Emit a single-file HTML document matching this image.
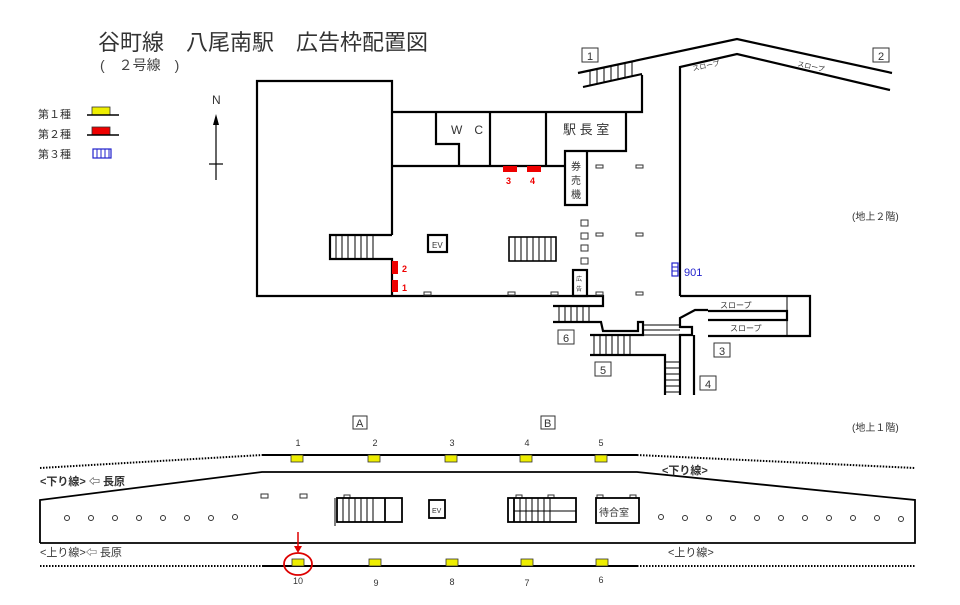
<!DOCTYPE html>
<html><head><meta charset="utf-8"><style>
body{margin:0;background:#fff;}
svg{display:block;font-family:"Liberation Sans","Noto Sans CJK JP",sans-serif;}
</style></head><body>
<svg width="960" height="605" viewBox="0 0 960 605" xmlns="http://www.w3.org/2000/svg">
<text x="98" y="50" font-size="22" fill="#333">谷町線　八尾南駅　広告枠配置図</text>
<text x="100" y="70" font-size="14" fill="#444">(　２号線　)</text>
<!-- legend -->
<g font-size="11" fill="#333">
<text x="38" y="118">第１種</text><text x="38" y="138">第２種</text><text x="38" y="158">第３種</text></g>
<rect x="92" y="107" width="18" height="8" fill="#ee0" stroke="#333" stroke-width="0.8"/><line x1="87" y1="115" x2="119" y2="115" stroke="#000" stroke-width="1.6"/>
<rect x="92" y="127" width="18" height="8" fill="#e00" stroke="#333" stroke-width="0.8"/><line x1="87" y1="135" x2="119" y2="135" stroke="#000" stroke-width="1.6"/>
<rect x="93" y="149" width="18" height="9" fill="#fff" stroke="#22c" stroke-width="1.2"/>
<g stroke="#22c"><line x1="97" y1="149" x2="97" y2="158"/><line x1="101" y1="149" x2="101" y2="158"/><line x1="105" y1="149" x2="105" y2="158"/><line x1="109" y1="149" x2="109" y2="158"/></g>
<!-- north -->
<text x="212" y="104" font-size="12" fill="#333">N</text>
<line x1="216" y1="120" x2="216" y2="180" stroke="#000" stroke-width="1.2"/>
<polygon points="216,114 213,125 219,125" fill="#000"/>
<line x1="209" y1="164" x2="223" y2="164" stroke="#000" stroke-width="1.2"/>

<g fill="none" stroke="#000" stroke-width="2.2">
<polyline points="392,235 392,81 257,81 257,296 603,296 603,306 553,306"/>
<polyline points="392,296 392,259 330,259 330,235 392,235"/>
<polyline points="392,112 642,112 642,75"/>
<line x1="392" y1="166" x2="565" y2="166"/>
<polyline points="436,112 436,144 459,144 459,166"/>
<line x1="490" y1="112" x2="490" y2="166"/>
<line x1="546" y1="112" x2="546" y2="166"/>
<polyline points="626,112 626,151 565,151 565,205 587,205 587,151"/>
<rect x="428" y="235" width="19" height="17"/>
<rect x="573" y="270" width="14" height="26"/>
<polyline points="578,73 737,39 892,73"/>
<polyline points="680,296 680,67 737,54 890,90"/>
<polyline points="680,296 810,296 810,336 708,336"/>
<polyline points="708,311 787,311 787,320 708,320"/>
<polyline points="553,322 601,322 603,331 638,331 638,322 643,322 643,335 590,335"/>
<polyline points="590,355 665,355 665,395"/>
<polyline points="680,395 680,335 692,335 692,327 680,327 680,318 695,310 708,310"/>
<line x1="694" y1="335" x2="694" y2="395"/>
</g>
<g stroke="#000" stroke-width="1">
<line x1="336" y1="235" x2="336" y2="259"/><line x1="342" y1="235" x2="342" y2="259"/><line x1="348" y1="235" x2="348" y2="259"/><line x1="355" y1="235" x2="355" y2="259"/><line x1="361" y1="235" x2="361" y2="259"/><line x1="367" y1="235" x2="367" y2="259"/><line x1="373" y1="235" x2="373" y2="259"/>
<rect x="509" y="237" width="47" height="24" fill="none" stroke-width="1.6"/>
<line x1="515" y1="237" x2="515" y2="261"/><line x1="521" y1="237" x2="521" y2="261"/><line x1="527" y1="237" x2="527" y2="261"/><line x1="533" y1="237" x2="533" y2="261"/><line x1="539" y1="237" x2="539" y2="261"/><line x1="545" y1="237" x2="545" y2="261"/><line x1="551" y1="237" x2="551" y2="261"/>
<line x1="559" y1="306" x2="559" y2="322"/><line x1="565" y1="306" x2="565" y2="322"/><line x1="571" y1="306" x2="571" y2="322"/><line x1="577" y1="306" x2="577" y2="322"/><line x1="583" y1="306" x2="583" y2="322"/><line x1="589" y1="306" x2="589" y2="322"/>
<line x1="594" y1="335" x2="594" y2="355"/><line x1="600" y1="335" x2="600" y2="355"/><line x1="606" y1="335" x2="606" y2="355"/><line x1="612" y1="335" x2="612" y2="355"/><line x1="618" y1="335" x2="618" y2="355"/><line x1="624" y1="335" x2="624" y2="355"/><line x1="630" y1="335" x2="630" y2="355"/>
<line x1="643" y1="325" x2="680" y2="325"/><line x1="643" y1="330" x2="680" y2="330"/><line x1="643" y1="335" x2="680" y2="335"/>
<line x1="665" y1="362" x2="680" y2="362"/><line x1="665" y1="368" x2="680" y2="368"/><line x1="665" y1="374" x2="680" y2="374"/><line x1="665" y1="380" x2="680" y2="380"/><line x1="665" y1="386" x2="680" y2="386"/><line x1="665" y1="392" x2="680" y2="392"/>
<line x1="787" y1="296" x2="787" y2="336"/>
<line x1="590" y1="70" x2="590" y2="85"/><line x1="597" y1="69" x2="597" y2="84"/><line x1="604" y1="67" x2="604" y2="82"/><line x1="611" y1="66" x2="611" y2="80"/><line x1="618" y1="64" x2="618" y2="79"/><line x1="625" y1="63" x2="625" y2="77"/><line x1="632" y1="61" x2="632" y2="76"/>
<line x1="583" y1="87" x2="642" y2="74" stroke-width="2"/>
</g>
<g fill="none" stroke="#333" stroke-width="1">
<rect x="596" y="165" width="7" height="3"/><rect x="636" y="165" width="7" height="3"/>
<rect x="596" y="233" width="7" height="3"/><rect x="636" y="233" width="7" height="3"/>
<rect x="636" y="292" width="7" height="3"/><rect x="596" y="292" width="7" height="3"/>
<rect x="581" y="220" width="7" height="6"/><rect x="581" y="233" width="7" height="6"/><rect x="581" y="245" width="7" height="6"/><rect x="581" y="258" width="7" height="6"/>
<rect x="424" y="292" width="7" height="3"/><rect x="508" y="292" width="7" height="3"/><rect x="551" y="292" width="7" height="3"/>
</g>
<g fill="#e00"><rect x="392" y="261" width="6" height="13"/><rect x="392" y="280" width="6" height="12"/><rect x="503" y="166" width="14" height="6"/><rect x="527" y="166" width="14" height="6"/></g>
<g font-size="9" fill="#e00" font-weight="bold"><text x="402" y="272">2</text><text x="402" y="291">1</text><text x="506" y="184">3</text><text x="530" y="184">4</text></g>
<rect x="672" y="263" width="6" height="13" fill="#fff" stroke="#22c" stroke-width="1.2"/>
<g stroke="#22c"><line x1="672" y1="267" x2="678" y2="267"/><line x1="672" y1="271" x2="678" y2="271"/></g>
<text x="684" y="276" font-size="11" fill="#22c">901</text>
<g fill="#333"><text x="451" y="134" font-size="12">W　C</text><text x="563" y="134" font-size="13">駅 長 室</text>
<text x="571" y="170" font-size="10">券</text><text x="571" y="184" font-size="10">売</text><text x="571" y="198" font-size="10">機</text>
<text x="432" y="248" font-size="8">EV</text>
<text x="576" y="281" font-size="6">広</text><text x="576" y="291" font-size="6">告</text>
<text x="693" y="71" font-size="7" transform="rotate(-12 693 71)">スロープ</text>
<text x="797" y="66" font-size="7" transform="rotate(12 797 66)">スロープ</text>
<text x="720" y="308" font-size="8">スロープ</text><text x="730" y="331" font-size="8">スロープ</text>
<text x="852" y="220" font-size="10">(地上２階)</text><text x="852" y="431" font-size="10">(地上１階)</text>
</g>
<g fill="none" stroke="#333" stroke-width="1"><rect x="582" y="48" width="16" height="14"/><rect x="873" y="48" width="16" height="14"/><rect x="714" y="343" width="16" height="14"/><rect x="700" y="376" width="16" height="14"/><rect x="595" y="362" width="16" height="14"/><rect x="558" y="330" width="16" height="14"/>
<rect x="353" y="416" width="14" height="13"/><rect x="541" y="416" width="14" height="13"/></g>
<g font-size="11" fill="#333"><text x="587" y="60">1</text><text x="878" y="60">2</text><text x="719" y="355">3</text><text x="705" y="388">4</text><text x="600" y="374">5</text><text x="563" y="342">6</text><text x="356" y="427">A</text><text x="544" y="427">B</text></g>

<g stroke="#000" fill="none">
<polyline points="40,468 262,455" stroke-width="2" stroke-dasharray="1.5 1.5"/>
<polyline points="637,455 915,468" stroke-width="2" stroke-dasharray="1.5 1.5"/>
<line x1="262" y1="455" x2="637" y2="455" stroke-width="2"/>
<line x1="40" y1="566" x2="262" y2="566" stroke-width="2" stroke-dasharray="1.5 1.5"/>
<line x1="637" y1="566" x2="915" y2="566" stroke-width="2" stroke-dasharray="1.5 1.5"/>
<line x1="262" y1="566" x2="637" y2="566" stroke-width="2"/>
<polyline points="40,543 40,500 262,472 637,472 915,500 915,543 40,543" stroke-width="1.8"/>
</g>
<g fill="#ee0" stroke="#333" stroke-width="0.8">
<rect x="291" y="455" width="12" height="7"/><rect x="368" y="455" width="12" height="7"/><rect x="445" y="455" width="12" height="7"/><rect x="520" y="455" width="12" height="7"/><rect x="595" y="455" width="12" height="7"/>
<rect x="292" y="559" width="12" height="7"/><rect x="369" y="559" width="12" height="7"/><rect x="446" y="559" width="12" height="7"/><rect x="521" y="559" width="12" height="7"/><rect x="596" y="559" width="12" height="7"/>
</g>
<g font-size="9" fill="#333" text-anchor="middle">
<text x="298" y="446">1</text><text x="375" y="446">2</text><text x="452" y="446">3</text><text x="527" y="446">4</text><text x="601" y="446">5</text>
<text x="298" y="584">10</text><text x="376" y="586">9</text><text x="452" y="585">8</text><text x="527" y="586">7</text><text x="601" y="583">6</text>
</g>
<g font-size="11" fill="#333"><text x="40" y="485" font-weight="bold">&lt;下り線&gt; ⇦ 長原</text><text x="662" y="474" font-weight="bold">&lt;下り線&gt;</text>
<text x="40" y="556">&lt;上り線&gt;⇦ 長原</text><text x="668" y="556">&lt;上り線&gt;</text></g>
<g fill="none" stroke="#333" stroke-width="1">
<circle cx="67" cy="518" r="2.5"/><circle cx="91" cy="518" r="2.5"/><circle cx="115" cy="518" r="2.5"/><circle cx="139" cy="518" r="2.5"/><circle cx="163" cy="518" r="2.5"/><circle cx="187" cy="518" r="2.5"/><circle cx="211" cy="518" r="2.5"/><circle cx="235" cy="517" r="2.5"/>
<circle cx="661" cy="517" r="2.5"/><circle cx="685" cy="518" r="2.5"/><circle cx="709" cy="518" r="2.5"/><circle cx="733" cy="518" r="2.5"/><circle cx="757" cy="518" r="2.5"/><circle cx="781" cy="518" r="2.5"/><circle cx="805" cy="518" r="2.5"/><circle cx="829" cy="518" r="2.5"/><circle cx="853" cy="518" r="2.5"/><circle cx="877" cy="518" r="2.5"/><circle cx="901" cy="519" r="2.5"/>
<rect x="261" y="494" width="7" height="4"/><rect x="300" y="494" width="7" height="4"/>
<rect x="344" y="495" width="6" height="3"/><rect x="516" y="495" width="6" height="3"/><rect x="548" y="495" width="6" height="3"/><rect x="597" y="495" width="6" height="3"/><rect x="630" y="495" width="6" height="3"/>
</g>
<g stroke="#000" fill="none">
<rect x="337" y="498" width="65" height="24" stroke-width="1.8"/><line x1="385" y1="498" x2="385" y2="522" stroke-width="1.8"/>
<line x1="335" y1="498" x2="335" y2="526" stroke-width="1"/>
<line x1="343" y1="498" x2="343" y2="522"/><line x1="349" y1="498" x2="349" y2="522"/><line x1="355" y1="498" x2="355" y2="522"/><line x1="361" y1="498" x2="361" y2="522"/><line x1="367" y1="498" x2="367" y2="522"/><line x1="373" y1="498" x2="373" y2="522"/>
<rect x="429" y="500" width="16" height="18" stroke-width="1.8"/>
<rect x="508" y="498" width="68" height="24" stroke-width="1.8"/><line x1="514" y1="498" x2="514" y2="522" stroke-width="1.8"/><line x1="514" y1="511" x2="576" y2="511"/>
<line x1="520" y1="498" x2="520" y2="522"/><line x1="526" y1="498" x2="526" y2="522"/><line x1="532" y1="498" x2="532" y2="522"/><line x1="538" y1="498" x2="538" y2="522"/><line x1="544" y1="498" x2="544" y2="522"/><line x1="550" y1="498" x2="550" y2="522"/>
<rect x="596" y="498" width="43" height="25" stroke-width="1.8"/>
</g>
<text x="432" y="513" font-size="7" fill="#333">EV</text>
<text x="599" y="516" font-size="10" fill="#333">待合室</text>
<ellipse cx="298" cy="564" rx="14" ry="11" fill="none" stroke="#d00" stroke-width="1.8"/>
<line x1="298" y1="532" x2="298" y2="549" stroke="#d00" stroke-width="1.5"/>
<polygon points="298,553 294,546 302,546" fill="#d00"/>
</svg>
</body></html>
